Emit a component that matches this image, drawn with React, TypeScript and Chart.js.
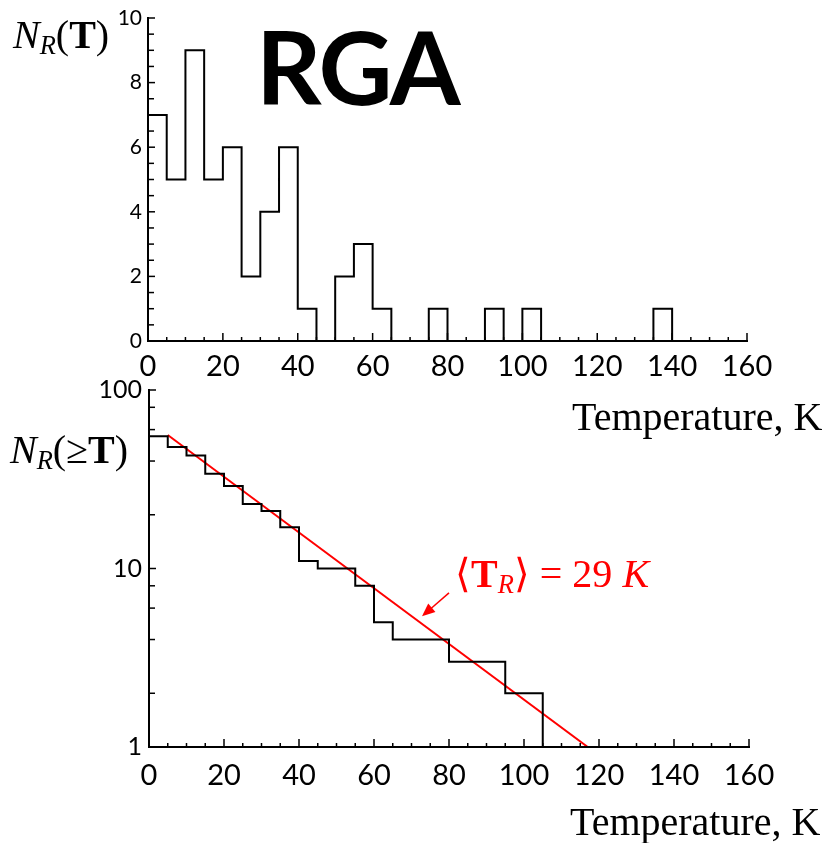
import React, { useEffect, useRef } from 'react';
import { Chart, registerables } from 'chart.js';

Chart.register(...registerables);

// ---------- data ----------
const binStarts = [0, 5, 10, 15, 20, 25, 30, 35, 40, 45, 50, 55, 60, 65, 70, 75, 80, 85, 90, 95, 100, 105, 110, 115, 120, 125, 130, 135, 140, 145];
const binCounts = [7, 5, 9, 5, 6, 2, 4, 6, 1, 0, 2, 3, 1, 0, 0, 1, 0, 0, 1, 0, 1, 0, 0, 0, 0, 0, 0, 1, 0, 0];
const histEnd = 150;

const cumStarts = [0, 5, 10, 15, 20, 25, 30, 35, 40, 45, 50, 55, 60, 65, 70, 75, 80, 85, 90, 95, 100, 105, 110, 115, 120, 125, 130, 135];
const cumCounts = [55, 48, 43, 34, 29, 23, 21, 17, 11, 10, 10, 8, 5, 4, 4, 4, 3, 3, 3, 2, 2, 1, 1, 1, 1, 1, 1, 1];
const cumEnd = 140;

const fitX = [5, 117];
const fitY = [56, 1];

const arrowFrom = [80, 7.3];
const arrowTo = [72.8, 5.4];

const xMajorTicks = [0, 20, 40, 60, 80, 100, 120, 140, 160];
const topYTicks = [0, 2, 4, 6, 8, 10];
const logYTicks = [1, 10, 100];

// ---------- plugins ----------
const inwardTicks = {
  id: 'inwardTicks',
  afterDatasetsDraw(chart: any, _a: any, opts: any) {
    const { ctx, chartArea, scales } = chart;
    ctx.save();
    ctx.strokeStyle = '#000';
    ctx.lineWidth = 1.5;
    const line = (x1: number, y1: number, x2: number, y2: number) => {
      ctx.beginPath();
      ctx.moveTo(x1, y1);
      ctx.lineTo(x2, y2);
      ctx.stroke();
    };
    (opts.xMinor || []).forEach((v: number) => {
      const p = scales.x.getPixelForValue(v);
      line(p, chartArea.bottom, p, chartArea.bottom - 4);
    });
    (opts.xMajor || []).forEach((v: number) => {
      const p = scales.x.getPixelForValue(v);
      line(p, chartArea.bottom, p, chartArea.bottom - 8);
    });
    (opts.yMinor || []).forEach((v: number) => {
      const p = scales.y.getPixelForValue(v);
      line(chartArea.left, p, chartArea.left + 6, p);
    });
    (opts.yMajor || []).forEach((v: number) => {
      const p = scales.y.getPixelForValue(v);
      line(chartArea.left, p, chartArea.left + 7, p);
    });
    ctx.restore();
  },
};

const arrowPlugin = {
  id: 'arrowPlugin',
  afterDatasetsDraw(chart: any) {
    const { ctx, scales } = chart;
    const x1 = scales.x.getPixelForValue(arrowFrom[0]);
    const y1 = scales.y.getPixelForValue(arrowFrom[1]);
    const x2 = scales.x.getPixelForValue(arrowTo[0]);
    const y2 = scales.y.getPixelForValue(arrowTo[1]);
    const ang = Math.atan2(y2 - y1, x2 - x1);
    const hl = 13;
    const hw = 5.5;
    ctx.save();
    ctx.strokeStyle = '#ff0000';
    ctx.fillStyle = '#ff0000';
    ctx.lineWidth = 1.5;
    ctx.beginPath();
    ctx.moveTo(x1, y1);
    ctx.lineTo(x2 - Math.cos(ang) * hl * 0.8, y2 - Math.sin(ang) * hl * 0.8);
    ctx.stroke();
    ctx.beginPath();
    ctx.moveTo(x2, y2);
    ctx.lineTo(x2 - Math.cos(ang) * hl - Math.sin(ang) * hw, y2 - Math.sin(ang) * hl + Math.cos(ang) * hw);
    ctx.lineTo(x2 - Math.cos(ang) * hl + Math.sin(ang) * hw, y2 - Math.sin(ang) * hl - Math.cos(ang) * hw);
    ctx.closePath();
    ctx.fill();
    ctx.restore();
  },
};

const minorEvery5 = () => {
  const out: number[] = [];
  for (let v = 0; v <= 160; v += 5) if (v % 20 !== 0) out.push(v);
  return out;
};

const tickFontX = { family: 'Lato', size: 29 };

function TopChart() {
  const ref = useRef<HTMLCanvasElement>(null);
  useEffect(() => {
    const pts: { x: number; y: number }[] = [{ x: binStarts[0], y: 0 }];
    binStarts.forEach((s, i) => pts.push({ x: s, y: binCounts[i] }));
    pts.push({ x: histEnd, y: binCounts[binCounts.length - 1] });
    const yMinor: number[] = [];
    for (let v = 0.5; v < 10; v += 1) yMinor.push(v);
    for (let v = 1; v < 10; v += 2) yMinor.push(v);
    const chart = new Chart(ref.current!, {
      type: 'line',
      data: {
        datasets: [
          {
            data: pts,
            borderColor: '#000',
            borderWidth: 2,
            pointRadius: 0,
            stepped: true,
            fill: false,
          },
        ],
      },
      options: {
        animation: false,
        responsive: false,
        maintainAspectRatio: false,
        layout: { padding: { left: 0, top: 18, right: 82, bottom: 0 } },
        plugins: {
          legend: { display: false },
          tooltip: { enabled: false },
          inwardTicks: { xMajor: xMajorTicks, xMinor: minorEvery5(), yMajor: topYTicks, yMinor },
        } as any,
        scales: {
          x: {
            type: 'linear',
            min: 0,
            max: 160,
            afterFit: (s: any) => { s.height = 49; s.paddingLeft = 0; s.paddingRight = 0; },
            afterBuildTicks: (s: any) => { s.ticks = xMajorTicks.map((v) => ({ value: v })); },
            grid: { display: false, drawTicks: false, tickLength: 0 },
            border: { display: true, color: '#000', width: 2 },
            ticks: { font: tickFontX, color: '#000', padding: 8, maxRotation: 0, autoSkip: false },
          },
          y: {
            type: 'linear',
            min: 0,
            max: 10,
            afterFit: (s: any) => { s.width = 148; s.paddingTop = 0; s.paddingBottom = 0; },
            afterBuildTicks: (s: any) => { s.ticks = topYTicks.map((v) => ({ value: v })); },
            grid: { display: false, drawTicks: false, tickLength: 0 },
            border: { display: true, color: '#000', width: 2 },
            ticks: { font: { family: 'Lato', size: 21 }, color: '#000', padding: 6 },
          },
        },
      },
      plugins: [inwardTicks],
    });
    return () => chart.destroy();
  }, []);
  return <canvas ref={ref} width={829} height={390} style={{ position: 'absolute', left: 0, top: 0, width: 829, height: 390 }} />;
}

function BottomChart() {
  const ref = useRef<HTMLCanvasElement>(null);
  useEffect(() => {
    const pts: { x: number; y: number }[] = [];
    cumStarts.forEach((s, i) => pts.push({ x: s, y: cumCounts[i] }));
    pts.push({ x: cumEnd, y: cumCounts[cumCounts.length - 1] });
    const fit = fitX.map((x, i) => ({ x, y: fitY[i] }));
    const yMinor: number[] = [];
    [1, 10].forEach((d) => [2, 4, 6, 8].forEach((m) => yMinor.push(d * m)));
    const chart = new Chart(ref.current!, {
      type: 'line',
      data: {
        datasets: [
          {
            data: pts,
            borderColor: '#000',
            borderWidth: 2,
            pointRadius: 0,
            stepped: true,
            fill: false,
          },
          {
            data: fit,
            borderColor: '#ff0000',
            borderWidth: 2,
            pointRadius: 0,
            fill: false,
          },
        ],
      },
      options: {
        animation: false,
        responsive: false,
        maintainAspectRatio: false,
        layout: { padding: { left: 0, top: 10, right: 80, bottom: 0 } },
        plugins: {
          legend: { display: false },
          tooltip: { enabled: false },
          inwardTicks: { xMajor: xMajorTicks, xMinor: minorEvery5(), yMajor: logYTicks, yMinor },
        } as any,
        scales: {
          x: {
            type: 'linear',
            min: 0,
            max: 160,
            afterFit: (s: any) => { s.height = 53; s.paddingLeft = 0; s.paddingRight = 0; },
            afterBuildTicks: (s: any) => { s.ticks = xMajorTicks.map((v) => ({ value: v })); },
            grid: { display: false, drawTicks: false, tickLength: 0 },
            border: { display: true, color: '#000', width: 2 },
            ticks: { font: tickFontX, color: '#000', padding: 11, maxRotation: 0, autoSkip: false },
          },
          y: {
            type: 'logarithmic',
            min: 1,
            max: 100,
            afterFit: (s: any) => { s.width = 149; s.paddingTop = 0; s.paddingBottom = 0; },
            afterBuildTicks: (s: any) => { s.ticks = logYTicks.map((v) => ({ value: v })); },
            grid: { display: false, drawTicks: false, tickLength: 0 },
            border: { display: true, color: '#000', width: 2 },
            ticks: { font: { family: 'Lato', size: 25 }, color: '#000', padding: 7, callback: (v: any) => String(v) },
          },
        },
      },
      plugins: [inwardTicks, arrowPlugin],
    });
    return () => chart.destroy();
  }, []);
  return <canvas ref={ref} width={829} height={420} style={{ position: 'absolute', left: 0, top: 380, width: 829, height: 420 }} />;
}

const serif = '"Liberation Serif", "Times New Roman", serif';

function Label(props: { left: number; baseline: number; size: number; family: string; ascent: number; color?: string; children: any; style?: any }) {
  const top = props.baseline - props.ascent * props.size;
  return (
    <div
      style={{
        position: 'absolute',
        left: props.left,
        top,
        fontSize: props.size,
        lineHeight: 1,
        fontFamily: props.family,
        color: props.color || '#000',
        whiteSpace: 'nowrap',
        ...(props.style || {}),
      }}
    >
      {props.children}
    </div>
  );
}

const sub = { fontSize: '0.66em', position: 'relative' as const, top: '0.24em', fontStyle: 'italic' };

export default function App() {
  return (
    <div style={{ position: 'absolute', left: 0, top: 0, width: 829, height: 843, background: '#fff', overflow: 'hidden' }}>
      <TopChart />
      <BottomChart />
      <Label left={256} baseline={105} size={102} family="Lato" ascent={0.887} style={{ fontWeight: 'bold', letterSpacing: -2 }}>
        RGA
      </Label>
      <Label left={13} baseline={48} size={40} family={serif} ascent={0.8375}>
        <i>N</i>
        <span style={sub}>R</span>(<b>T</b>)
      </Label>
      <Label left={10} baseline={463} size={40} family={serif} ascent={0.8375}>
        <i>N</i>
        <span style={sub}>R</span>(≥<b>T</b>)
      </Label>
      <Label left={572} baseline={430} size={40} family={serif} ascent={0.8375}>
        Temperature, K
      </Label>
      <Label left={570} baseline={835} size={40} family={serif} ascent={0.8375}>
        Temperature, K
      </Label>
      <Label left={455} baseline={587} size={40} family={serif} ascent={0.8375} color="#ff0000">
        ⟨<b>T</b>
        <span style={sub}>R</span>⟩ = 29 <i>K</i>
      </Label>
    </div>
  );
}
